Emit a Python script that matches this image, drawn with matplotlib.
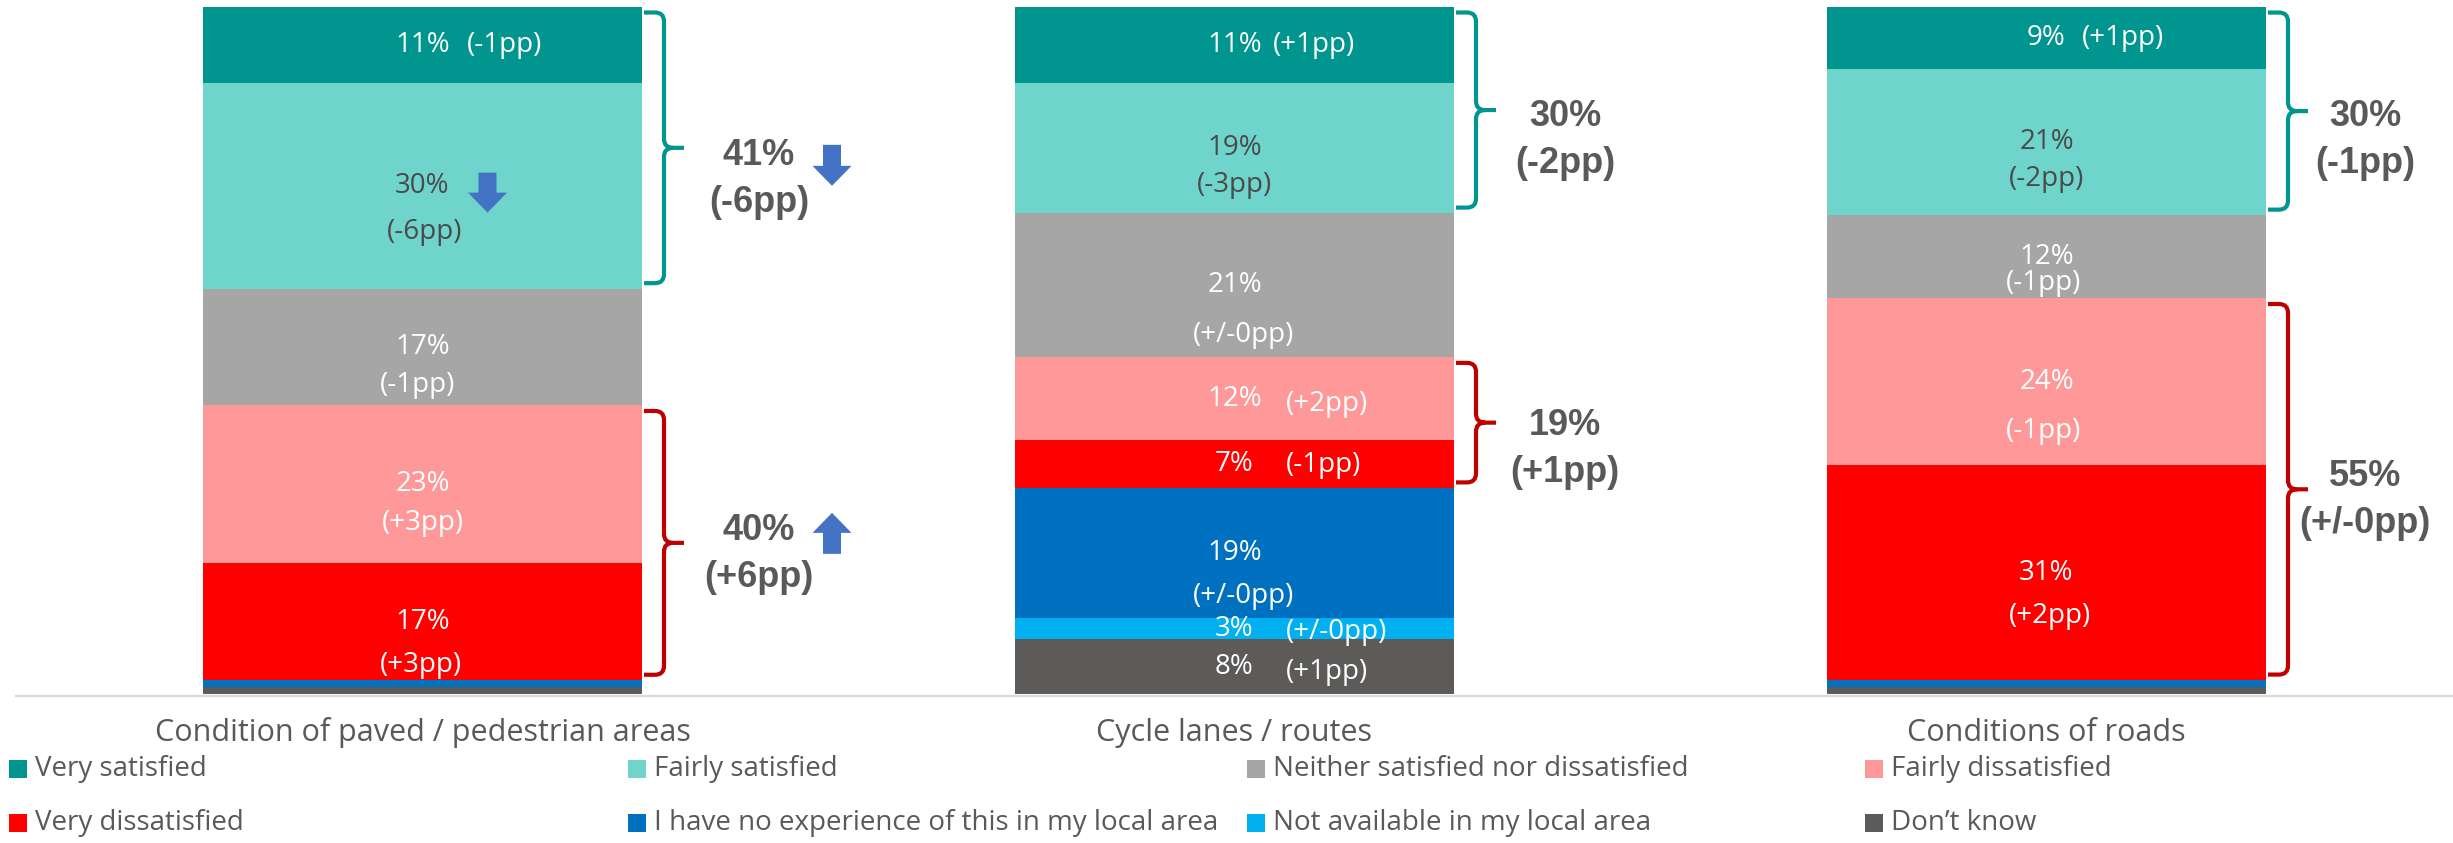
import matplotlib
matplotlib.use("Agg")
import matplotlib.pyplot as plt
from matplotlib import font_manager
from matplotlib.patches import FancyArrow, Rectangle, PathPatch
from matplotlib.path import Path
from matplotlib.lines import Line2D
import numpy as np

W, H, DPI = 2453, 843, 100

# answer options, top of the stack first (same order as the legend)
options = ["Very satisfied", "Fairly satisfied", "Neither satisfied nor dissatisfied",
           "Fairly dissatisfied", "Very dissatisfied",
           "I have no experience of this in my local area",
           "Not available in my local area", "Don\u2019t know"]
colors = ["#00968F", "#6FD5CC", "#A6A6A6", "#FF9999", "#FF0000",
          "#0070C0", "#00B0F0", "#5D5B59"]

areas = ["Condition of paved / pedestrian areas", "Cycle lanes / routes", "Conditions of roads"]

# % of respondents, and change since last wave in percentage points
paved = [11, 30, 17, 23, 17, 1, 0, 1]
paved_change = [-1, -6, -1, 3, 3, 0, 0, 0]
cycle = [11, 19, 21, 12, 7, 19, 3, 8]
cycle_change = [1, -3, 0, 2, -1, 0, 0, 1]
roads = [9, 21, 12, 24, 31, 1, 0, 1]
roads_change = [1, -2, -1, -1, 2, 0, 0, 0]

satisfied_change = [-6, -2, -1]
dissatisfied_change = [6, 1, 0]

values = [paved, cycle, roads]
changes = [paved_change, cycle_change, roads_change]

# where the "(..pp)" goes: ("below", gap px, x shift px) or ("right", x offset px, y shift px)
pp_place = [
    [("right", 44, 0), ("below", 46, 2), ("below", 38, -5), ("below", 39, 0), ("below", 43, -2),
     None, None, None],
    [("right", 38, 0), ("below", 37, 0), ("below", 50, 9), ("right", 51, 5), ("right", 51, 1),
     ("below", 43, 9), ("right", 51, 3), ("right", 51, 5)],
    [("right", 35, 0), ("below", 37, 0), ("below", 26, -3), ("below", 49, -3), ("below", 43, 4),
     None, None, None],
]
net_text_shift = [(8, -12), (6, 3), (5, -13)]
net_text_x = [117, 111, 99]

bar_left = [203, 1015, 1827]
bar_width = [439, 439, 439]
top_px, base_px = 7, 694
AXW = 600

names = {f.name for f in font_manager.fontManager.ttflist}
plain = "Open Sans" if "Open Sans" in names else "DejaVu Sans"
heavy = "Liberation Sans" if "Liberation Sans" in names else "DejaVu Sans"

TEXT = "#595959"
DARK = "#4A4A4A"
ARROW = "#4472C4"


def pp(v):
    if v == 0:
        return "(+/-0pp)"
    return "(%+dpp)" % v


def px_box(left, top, width, height):
    return [left / W, 1 - (top + height) / H, width / W, height / H]


def brace(ax, x0, y_top, y_bot, ppu, color):
    # right-hand curly brace; x in pixels, y in data units
    x_tip, x_line, x_pt = x0 + 2, x0 + 22, x0 + 42
    r = 9 / ppu
    y_mid = (y_top + y_bot) / 2
    verts = [(x_tip, y_top), (x_line - 9, y_top), (x_line, y_top), (x_line, y_top - r),
             (x_line, y_mid + r), (x_line, y_mid), (x_line + 9, y_mid), (x_pt, y_mid),
             (x_line + 9, y_mid), (x_line, y_mid), (x_line, y_mid - r),
             (x_line, y_bot + r), (x_line, y_bot), (x_line - 9, y_bot), (x_tip, y_bot)]
    codes = [Path.MOVETO, Path.LINETO, Path.CURVE3, Path.CURVE3,
             Path.LINETO, Path.CURVE3, Path.CURVE3, Path.LINETO,
             Path.MOVETO, Path.CURVE3, Path.CURVE3,
             Path.LINETO, Path.CURVE3, Path.CURVE3, Path.LINETO]
    ax.add_patch(PathPatch(Path(verts, codes), fill=False, edgecolor=color, lw=3,
                           capstyle="butt", joinstyle="round", clip_on=False))
    return y_mid


def arrow(ax, x, y_start, length_px, ppu, down):
    dy = (-length_px if down else length_px) / ppu
    ax.add_patch(FancyArrow(x, y_start, 0, dy, width=18, head_width=39,
                            head_length=20 / ppu, length_includes_head=True,
                            color=ARROW, lw=0, clip_on=False))


fig = plt.figure(figsize=(W / DPI, H / DPI), dpi=DPI)

for i in range(3):
    vals = values[i]
    total = sum(vals)
    ppu = (base_px - top_px) / total  # pixels per percent
    bw = bar_width[i]
    xc = bw / 2

    ax = fig.add_axes(px_box(bar_left[i], top_px, AXW, base_px - top_px))
    ax.set_xlim(0, AXW)
    ax.set_ylim(0, total)
    ax.axis("off")

    bottoms = total - np.cumsum(vals)
    ax.bar([xc] * len(vals), vals, width=bw, bottom=bottoms, color=colors, linewidth=0)

    for k, v in enumerate(vals):
        place = pp_place[i][k]
        if place is None or v == 0:
            continue
        ymid = bottoms[k] + v / 2
        col = DARK if k == 1 else "white"
        ax.annotate("%d%%" % v, (xc, ymid), ha="center", va="center", color=col,
                    fontsize=20, family=plain)
        if place[0] == "below":
            ax.annotate(pp(changes[i][k]), (xc, ymid), xytext=(place[2], -place[1]),
                        textcoords="offset pixels", ha="center", va="center",
                        color=col, fontsize=20, family=plain)
        else:
            ax.annotate(pp(changes[i][k]), (xc, ymid), xytext=(place[1], -place[2]),
                        textcoords="offset pixels", ha="left", va="center",
                        color=col, fontsize=20, family=plain)
        if i == 0 and k == 1:
            # trend arrow next to the fairly satisfied share
            arrow(ax, xc + 65, ymid + 13 / ppu, 40, ppu, down=True)

    inset = 0.8
    groups = [(0, 1, "#00968F", satisfied_change[i]), (3, 4, "#C00000", dissatisfied_change[i])]
    for g, (a, b, bcol, ch) in enumerate(groups):
        y_top = bottoms[a] + vals[a] - inset
        y_bot = bottoms[b] + inset
        y_mid = brace(ax, bw, y_top, y_bot, ppu, bcol)
        net = vals[a] + vals[b]
        shift = net_text_shift[i][g]
        tx = bw + net_text_x[i]
        ax.annotate("%d%%" % net, (tx, y_mid), xytext=(0, -shift),
                    textcoords="offset pixels", ha="center", va="center",
                    color=TEXT, fontsize=26, fontweight="bold", family=heavy)
        ax.annotate(pp(ch), (tx, y_mid), xytext=(0, -shift - 47),
                    textcoords="offset pixels", ha="center", va="center",
                    color=TEXT, fontsize=26, fontweight="bold", family=heavy)
        if i == 0:
            if g == 0:
                arrow(ax, bw + 190, y_mid + 3 / ppu, 41, ppu, down=True)
            else:
                arrow(ax, bw + 190, y_mid - 11 / ppu, 41, ppu, down=False)

    fig.text((bar_left[i] + xc) / W, 1 - 733 / H, areas[i], ha="center", va="center",
             fontsize=22, color=TEXT, family=plain)

# category axis line
fig.add_artist(Line2D([16 / W, 1], [1 - 695.5 / H] * 2, transform=fig.transFigure,
                      color="#D9D9D9", lw=1.6, zorder=0))

# legend, four columns by two rows
col_x = [9, 628, 1247, 1865]
row_y = [769, 823]
for n, (name, c) in enumerate(zip(options, colors)):
    x = col_x[n % 4]
    y = row_y[n // 4]
    fig.add_artist(Rectangle((x / W, 1 - (y + 9) / H), 18 / W, 18 / H,
                             transform=fig.transFigure, color=c, lw=0))
    fig.text((x + 26) / W, 1 - y / H, name, ha="left", va="center",
             fontsize=20, color=TEXT, family=plain)

fig.savefig("out.png", dpi=DPI)
